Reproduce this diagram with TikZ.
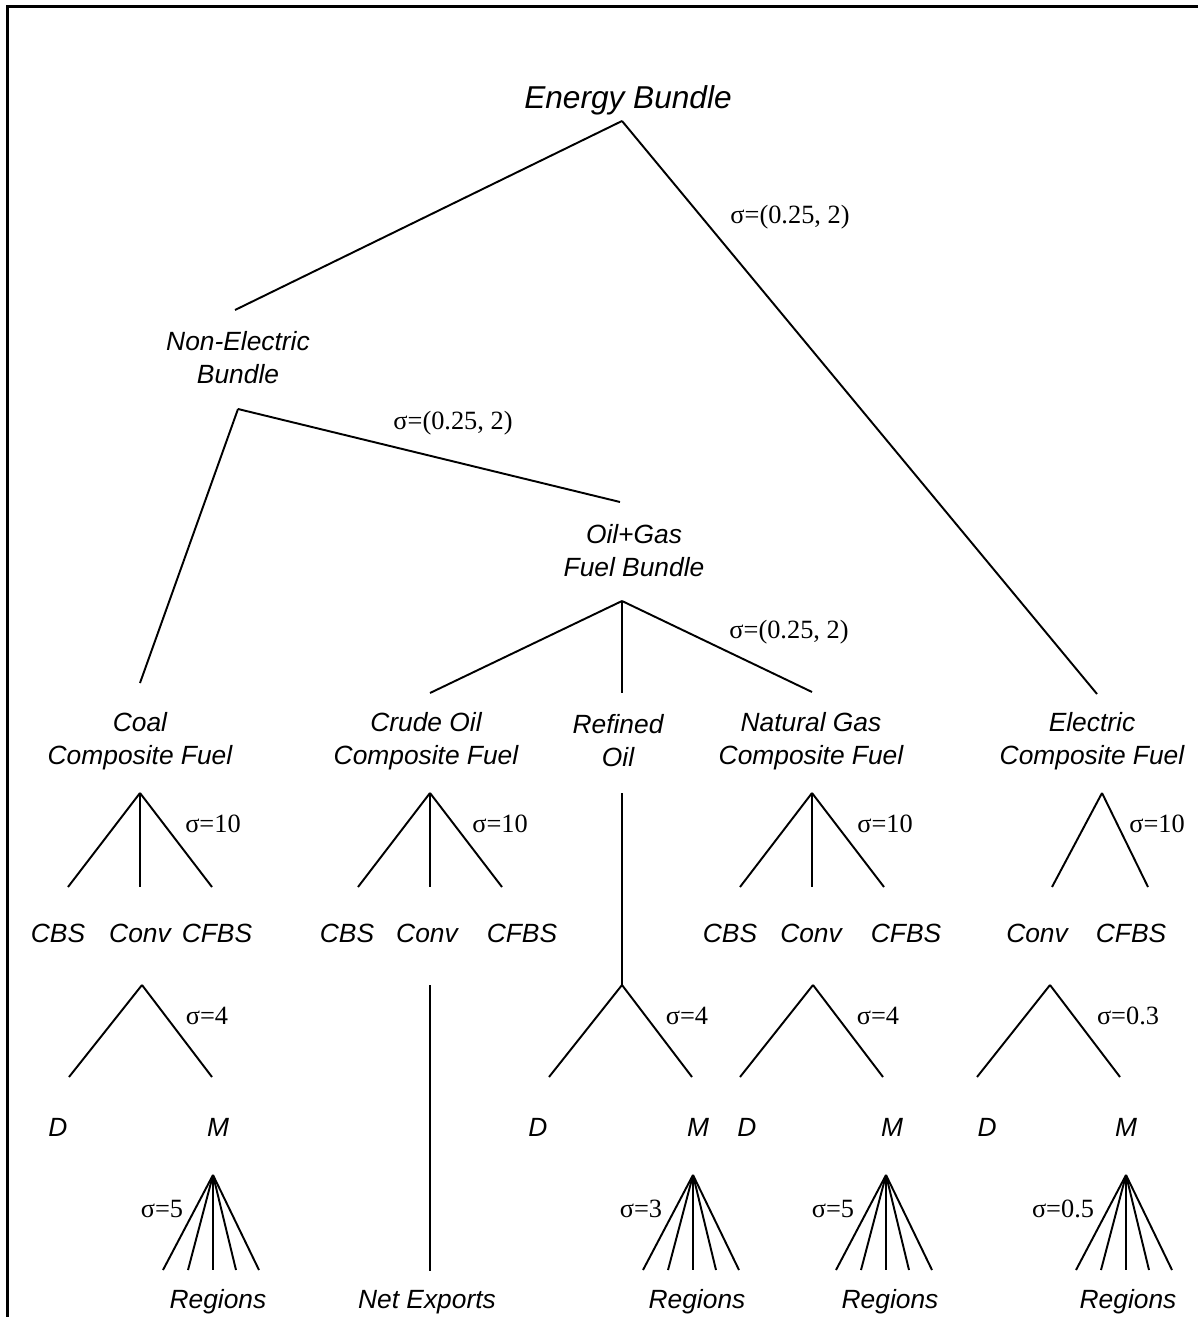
\documentclass[tikz,border=0pt]{standalone}
\usepackage{fontspec}
\setsansfont{Liberation Sans}
\newfontfamily\sigmafont{Liberation Serif}
\usetikzlibrary{positioning}

\begin{document}
\begin{tikzpicture}[x=0.02cm,y=-0.02cm,line width=1.1pt,
  fuel node/.style={font=\sffamily\itshape\fontsize{15}{18.8}\selectfont,align=center,inner sep=0pt},
  sigma node/.style={font=\sigmafont\fontsize{15}{18}\selectfont,inner sep=0pt}]

  \useasboundingbox (0,0) rectangle (1198,1317);
  \draw[line width=1.15pt] (7.5,1317) -- (7.5,6.5) -- (1198,6.5);

  % bundles
  \node[fuel node,font=\sffamily\itshape\fontsize{18}{22}\selectfont] (EB) at (628,100) {Energy Bundle};
  \node[fuel node] (NE) at (238,358) {Non-Electric\\Bundle};
  \node[fuel node] (OG) at (634,551) {Oil+Gas\\Fuel Bundle};
  \node[fuel node] (Coal) at (140,741) {Coal\\Composite Fuel};
  \node[fuel node] (Crude) at (426,741) {Crude Oil\\Composite Fuel};
  \node[fuel node] (Ref) at (618,741) {Refined\\Oil};
  \node[fuel node] (NG) at (811,741) {Natural Gas\\Composite Fuel};
  \node[fuel node] (El) at (1092,741) {Electric\\Composite Fuel};

  \coordinate (eb) at (622,121);
  \coordinate (ne in) at (235,310);
  \coordinate (el in) at (1097,694);
  \coordinate (ne) at (238,409);
  \coordinate (coal in) at (140,683);
  \coordinate (og in) at (620,502);
  \coordinate (og) at (622,601);
  \coordinate (crude in) at (430,693);
  \coordinate (ref in) at (622,693);
  \coordinate (ng in) at (812,692);

  \path (eb) edge (ne in) edge (el in)
        (ne) edge (coal in) edge (og in)
        (og) edge (crude in) edge (ref in) edge (ng in);

  % composite fuels
  \foreach \n/\x in {coal/140,crude/430,ng/812}{
    \coordinate (\n-cf) at (\x,793);
    \coordinate (\n-cbs) at (\x-72,887);
    \coordinate (\n-conv) at (\x,887);
    \coordinate (\n-cfbs) at (\x+72,887);
    \path (\n-cf) edge (\n-cbs) edge (\n-conv) edge (\n-cfbs);
  }
  \coordinate (el-cf) at (1102,793);
  \coordinate (el-conv) at (1052,887);
  \coordinate (el-cfbs) at (1148,887);
  \path (el-cf) edge (el-conv) edge (el-cfbs);

  \foreach \t/\x [count=\i] in {CBS/58,Conv/140,CFBS/217,CBS/347,Conv/427,CFBS/522,
      CBS/730,Conv/811,CFBS/906,Conv/1037,CFBS/1131}
    \node[fuel node] (tech\i) at (\x,933) {\t};

  % domestic vs imports
  \foreach \n/\x in {coal/142,ref/622,ng/813,el/1050}{
    \coordinate (\n-dm) at (\x,985);
    \coordinate (\n-d) at (\x-73,1077);
    \coordinate (\n-m) at (\x+70,1077);
    \path (\n-dm) edge (\n-d) edge (\n-m);
  }
  \coordinate (ref-cf) at (622,793);
  \coordinate (crude-nx) at (430,985);
  \coordinate (crude-end) at (430,1271);
  \path (ref-cf) edge (ref-dm)
        (crude-nx) edge (crude-end);

  \foreach \t/\x [count=\i] in {D/58,M/218,D/538,M/698,D/747,M/892,D/987,M/1126}
    \node[fuel node] (src\i) at (\x,1127) {\t};

  % regions
  \foreach \n/\x in {coal/213,ref/693,ng/886,el/1126}{
    \coordinate (\n-reg) at (\x,1175);
    \foreach \d [count=\i] in {-50,-25,0,23,46}{
      \coordinate (\n-r\i) at (\x+\d,1270);
      \path (\n-reg) edge (\n-r\i);
    }
  }
  \foreach \x [count=\i] in {218,697,890,1128}
    \node[fuel node] (reg\i) at (\x,1302) {Regions};
  \node[fuel node] (NX) at (427,1302) {Net Exports};

  % elasticities
  \foreach \t/\x/\y [count=\i] in {{(0.25, 2)}/790/217,{(0.25, 2)}/453/423,{(0.25, 2)}/789/632,
      10/213/824,10/500/824,10/885/824,10/1157/824,
      4/207/1016,4/687/1016,4/878/1016,0.3/1128/1016,
      5/162/1209,3/641/1209,5/833/1209,0.5/1063/1209}
    \node[sigma node] (sig\i) at (\x,\y) {σ=\t};
\end{tikzpicture}
\end{document}
